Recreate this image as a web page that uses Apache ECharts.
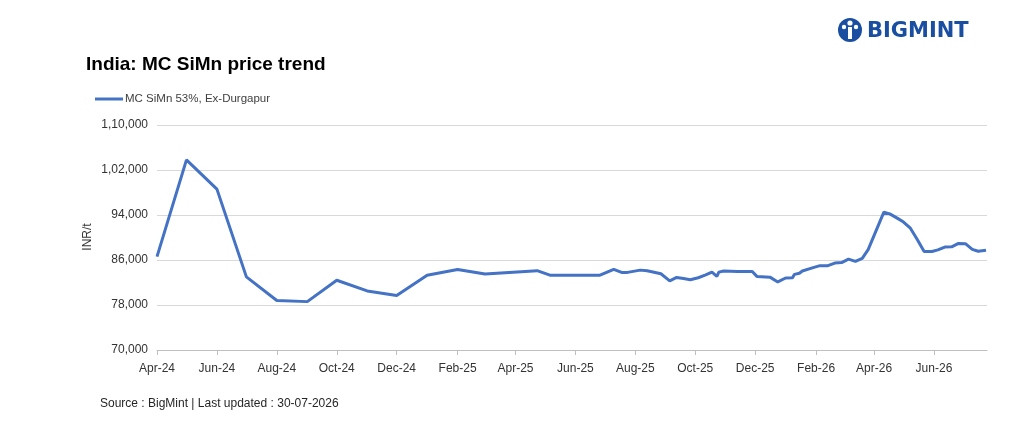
<!DOCTYPE html>
<html>
<head>
<meta charset="utf-8">
<script src="https://cdn.jsdelivr.net/npm/echarts@6/dist/echarts.min.js"></script>
<style>
  html, body { margin: 0; padding: 0; background: #fff; }
  #main { width: 1021px; height: 448px; }
</style>
</head>
<body>
<div id="main"></div>
<script>
// MC SiMn 53%, Ex-Durgapur (INR/t)
var dates = [
  '2024-04-01','2024-05-01','2024-06-01','2024-07-01','2024-08-01','2024-09-01',
  '2024-10-01','2024-11-01','2024-12-01','2025-01-01','2025-02-01','2025-03-01',
  '2025-04-23','2025-05-06','2025-06-26','2025-07-10','2025-07-18','2025-07-24',
  '2025-08-06','2025-08-13','2025-08-27','2025-09-05','2025-09-12','2025-09-19',
  '2025-09-26','2025-10-04','2025-10-11','2025-10-18','2025-10-23','2025-10-25',
  '2025-10-30','2025-11-13','2025-11-28','2025-12-03','2025-12-16','2025-12-24',
  '2026-01-01','2026-01-08','2026-01-10','2026-01-15','2026-01-18','2026-01-29',
  '2026-02-05','2026-02-13','2026-02-20','2026-02-27','2026-03-06','2026-03-13',
  '2026-03-20','2026-03-26','2026-04-11','2026-04-17','2026-04-25','2026-05-01',
  '2026-05-08','2026-05-15','2026-05-22','2026-05-30','2026-06-05','2026-06-12',
  '2026-06-19','2026-06-26','2026-07-03','2026-07-10','2026-07-16','2026-07-24'
];
var prices = [
  86600,103800,98600,83000,78800,78600,
  82400,80500,79700,83300,84300,83500,
  84100,83300,83300,84350,83800,83800,
  84200,84100,83550,82300,82900,82700,
  82500,82850,83300,83850,83100,83850,
  84050,83950,83950,83050,82950,82100,
  82800,82850,83450,83650,84050,84650,
  85000,85000,85450,85550,86150,85750,
  86300,87850,94500,94200,93400,92750,
  91650,89650,87500,87500,87800,88300,
  88350,88950,88900,87900,87550,87750
];
var tickMonths = ['2024-04','2024-06','2024-08','2024-10','2024-12','2025-02','2025-04',
  '2025-06','2025-08','2025-10','2025-12','2026-02','2026-04','2026-06'];
var monthNames = ['Jan','Feb','Mar','Apr','May','Jun','Jul','Aug','Sep','Oct','Nov','Dec'];

function toTime(s) {
  var p = s.split('-');
  return Date.UTC(+p[0], +p[1] - 1, p[2] ? +p[2] : 1);
}
// indian digit grouping: 110000 -> 1,10,000
function inr(v) {
  var s = String(Math.round(v));
  if (s.length <= 3) return s;
  var last = s.slice(-3), rest = s.slice(0, -3);
  rest = rest.replace(/\B(?=(\d{2})+(?!\d))/g, ',');
  return rest + ',' + last;
}

var seriesData = dates.map(function (d, i) { return [toTime(d), prices[i]]; });
var ticks = tickMonths.map(toTime);

var chart = echarts.init(document.getElementById('main'));
var font = 'Liberation Sans, Arial, sans-serif';

chart.setOption({
  backgroundColor: '#fff',
  animation: false,
  textStyle: { fontFamily: font },
  title: {
    text: 'India: MC SiMn price trend',
    left: 81, top: 50,
    textStyle: { fontSize: 19, fontWeight: 'bold', color: '#000', fontFamily: font }
  },
  legend: {
    left: 90, top: 88,
    icon: 'rect', itemWidth: 28, itemHeight: 3, itemGap: 10,
    textStyle: { fontSize: 11.5, color: '#404040', padding: [0, 0, 0, -3] },
    data: ['MC SiMn 53%, Ex-Durgapur']
  },
  grid: { left: 157, right: 34, top: 125, bottom: 98, containLabel: false },
  xAxis: {
    type: 'value',
    min: toTime('2024-04-01'),
    max: toTime('2026-07-25'),
    axisLine: { lineStyle: { color: '#bfbfbf', width: 1 } },
    axisTick: { show: true, length: 5, lineStyle: { color: '#bfbfbf' }, customValues: ticks },
    splitLine: { show: false },
    axisLabel: {
      customValues: ticks,
      margin: 13,
      fontSize: 12,
      color: '#333',
      formatter: function (v) {
        var d = new Date(v);
        return monthNames[d.getUTCMonth()] + '-' + String(d.getUTCFullYear()).slice(2);
      }
    }
  },
  yAxis: {
    type: 'value',
    min: 70000, max: 110000, interval: 8000,
    axisLine: { show: false },
    axisTick: { show: false },
    splitLine: { lineStyle: { color: '#d9d9d9', width: 1 } },
    axisLabel: { fontSize: 12, color: '#333', margin: 9, formatter: inr }
  },
  graphic: [
    {
      type: 'text', x: 88, y: 237, rotation: Math.PI / 2,
      style: { text: 'INR/t', fontSize: 12, fill: '#333', fontFamily: font,
        textAlign: 'center', textVerticalAlign: 'middle' }
    },
    {
      type: 'text', left: 100, top: 398,
      style: { text: 'Source : BigMint | Last updated : 30-07-2026', fontSize: 12,
        fill: '#262626', fontFamily: font }
    },
    // logo
    { type: 'circle', shape: { cx: 850, cy: 30, r: 12 }, style: { fill: '#1a4ea0' } },
    { type: 'circle', shape: { cx: 850, cy: 23, r: 2.6 }, style: { fill: '#fff' } },
    { type: 'rect', shape: { x: 848, y: 27, width: 4, height: 12 }, style: { fill: '#fff' } },
    { type: 'circle', shape: { cx: 844, cy: 27, r: 2.2 }, style: { fill: '#fff' } },
    { type: 'circle', shape: { cx: 856, cy: 27, r: 2.2 }, style: { fill: '#fff' } },
    {
      type: 'text', x: 867, y: 32,
      style: { text: 'BIGMINT', fontSize: 21, fontWeight: 'bold', fill: '#1a4ea0',
        fontFamily: 'DejaVu Sans', textVerticalAlign: 'middle' }
    }
  ],
  series: [{
    name: 'MC SiMn 53%, Ex-Durgapur',
    type: 'line',
    data: seriesData,
    showSymbol: false,
    symbol: 'none',
    lineStyle: { color: '#4472c4', width: 3 },
    itemStyle: { color: '#4472c4' }
  }]
});
</script>
</body>
</html>
